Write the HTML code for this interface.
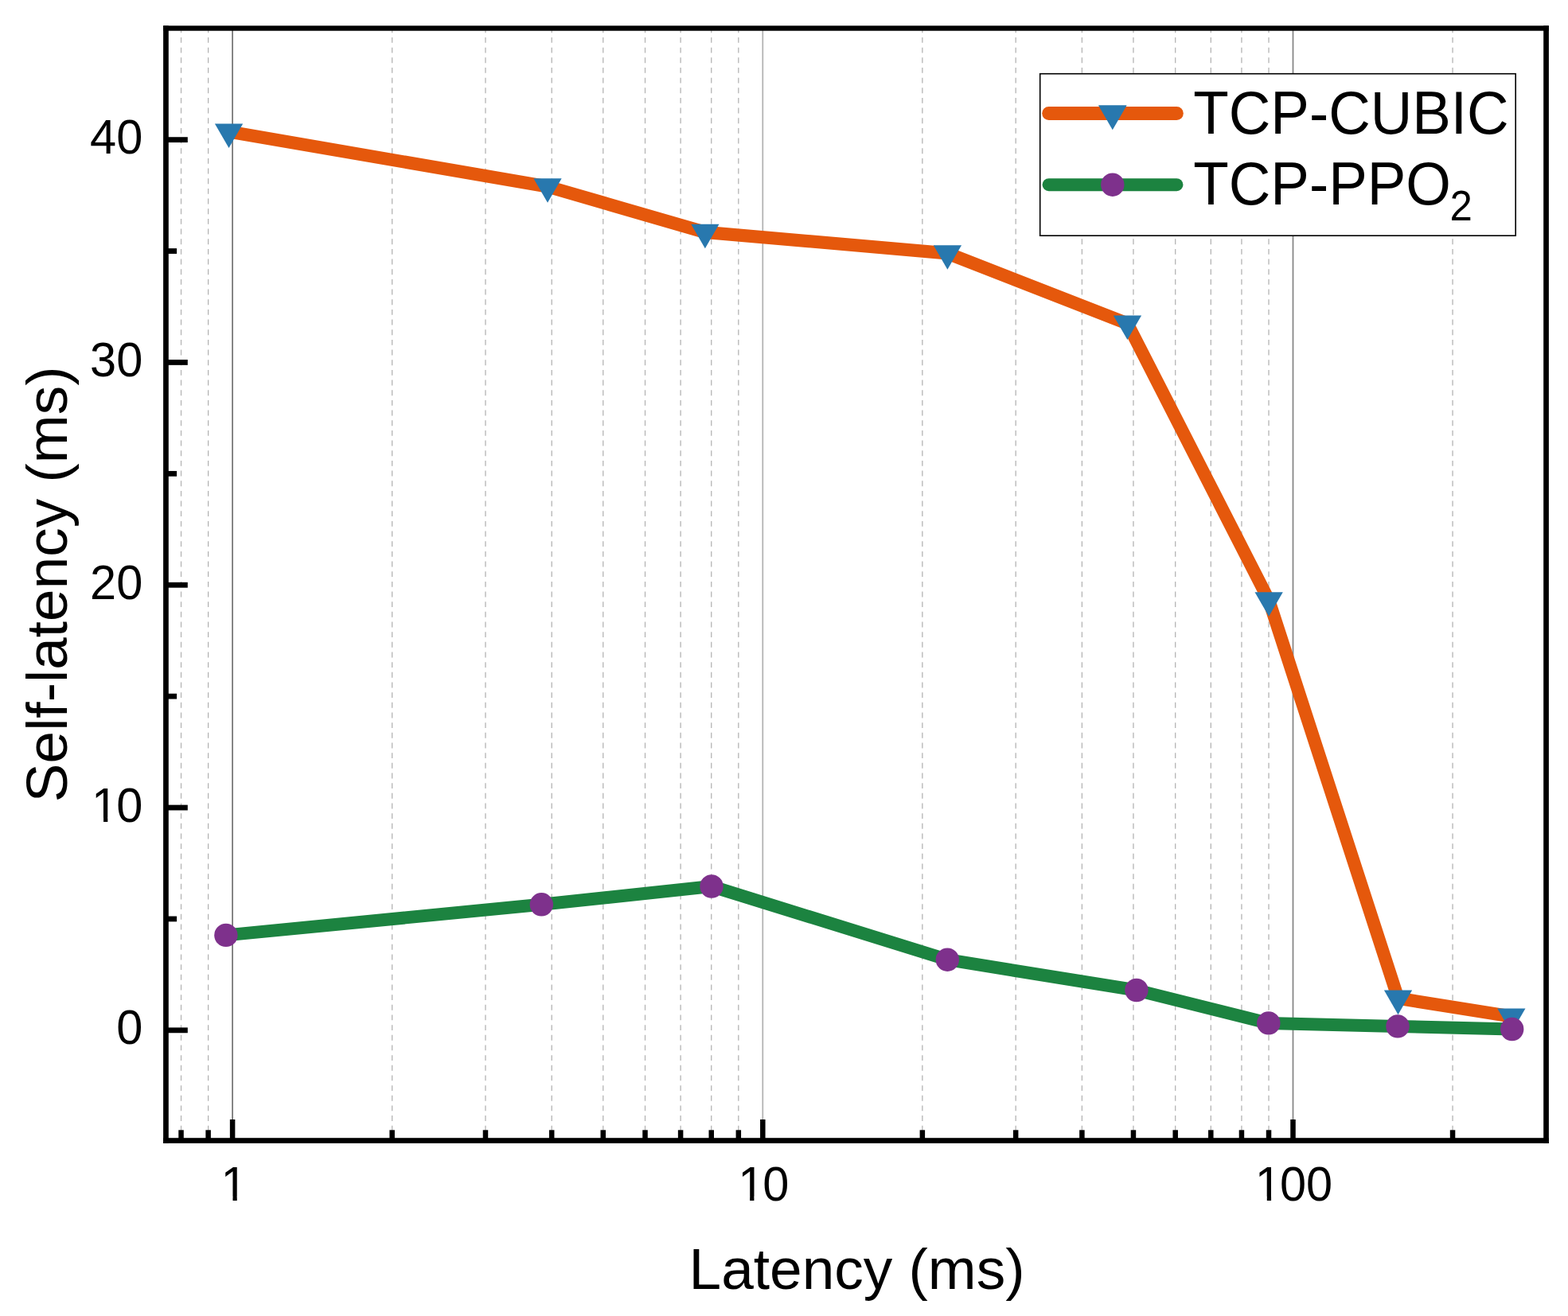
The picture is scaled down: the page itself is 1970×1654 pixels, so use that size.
<!DOCTYPE html>
<html lang="en"><head><meta charset="utf-8"><title>Self-latency vs Latency</title><style>html,body{margin:0;padding:0;background:#fff;overflow:hidden}svg{display:block}</style></head><body>
<svg width="1970" height="1654" viewBox="0 0 1970 1654">
<rect x="0" y="0" width="1970" height="1654" fill="#fff"/>
<g id="grid">
<line x1="227.54" y1="34.3" x2="227.54" y2="1433" stroke="#b4b4b4" stroke-width="1.3" stroke-dasharray="6.9 5.765"/>
<line x1="261.62" y1="34.3" x2="261.62" y2="1433" stroke="#b4b4b4" stroke-width="1.3" stroke-dasharray="6.9 5.765"/>
<line x1="492.65" y1="34.3" x2="492.65" y2="1433" stroke="#b4b4b4" stroke-width="1.3" stroke-dasharray="6.9 5.765"/>
<line x1="609.96" y1="34.3" x2="609.96" y2="1433" stroke="#b4b4b4" stroke-width="1.3" stroke-dasharray="6.9 5.765"/>
<line x1="693.19" y1="34.3" x2="693.19" y2="1433" stroke="#b4b4b4" stroke-width="1.3" stroke-dasharray="6.9 5.765"/>
<line x1="757.75" y1="34.3" x2="757.75" y2="1433" stroke="#b4b4b4" stroke-width="1.3" stroke-dasharray="6.9 5.765"/>
<line x1="810.50" y1="34.3" x2="810.50" y2="1433" stroke="#b4b4b4" stroke-width="1.3" stroke-dasharray="6.9 5.765"/>
<line x1="855.10" y1="34.3" x2="855.10" y2="1433" stroke="#b4b4b4" stroke-width="1.3" stroke-dasharray="6.9 5.765"/>
<line x1="893.74" y1="34.3" x2="893.74" y2="1433" stroke="#b4b4b4" stroke-width="1.3" stroke-dasharray="6.9 5.765"/>
<line x1="927.82" y1="34.3" x2="927.82" y2="1433" stroke="#b4b4b4" stroke-width="1.3" stroke-dasharray="6.9 5.765"/>
<line x1="1158.85" y1="34.3" x2="1158.85" y2="1433" stroke="#b4b4b4" stroke-width="1.3" stroke-dasharray="6.9 5.765"/>
<line x1="1276.16" y1="34.3" x2="1276.16" y2="1433" stroke="#b4b4b4" stroke-width="1.3" stroke-dasharray="6.9 5.765"/>
<line x1="1359.39" y1="34.3" x2="1359.39" y2="1433" stroke="#b4b4b4" stroke-width="1.3" stroke-dasharray="6.9 5.765"/>
<line x1="1423.95" y1="34.3" x2="1423.95" y2="1433" stroke="#b4b4b4" stroke-width="1.3" stroke-dasharray="6.9 5.765"/>
<line x1="1476.70" y1="34.3" x2="1476.70" y2="1433" stroke="#b4b4b4" stroke-width="1.3" stroke-dasharray="6.9 5.765"/>
<line x1="1521.30" y1="34.3" x2="1521.30" y2="1433" stroke="#b4b4b4" stroke-width="1.3" stroke-dasharray="6.9 5.765"/>
<line x1="1559.94" y1="34.3" x2="1559.94" y2="1433" stroke="#b4b4b4" stroke-width="1.3" stroke-dasharray="6.9 5.765"/>
<line x1="1594.02" y1="34.3" x2="1594.02" y2="1433" stroke="#b4b4b4" stroke-width="1.3" stroke-dasharray="6.9 5.765"/>
<line x1="1825.05" y1="34.3" x2="1825.05" y2="1433" stroke="#b4b4b4" stroke-width="1.3" stroke-dasharray="6.9 5.765"/>
<line x1="292.10" y1="36" x2="292.10" y2="1431" stroke="#707070" stroke-width="1.7"/>
<line x1="958.30" y1="36" x2="958.30" y2="1431" stroke="#b0b0b0" stroke-width="1.7"/>
<line x1="1624.50" y1="36" x2="1624.50" y2="1431" stroke="#888888" stroke-width="1.8"/>
</g>
<g id="cubic">
<polyline points="287.55,165.59 688.00,234.49 885.85,291.89 1190.40,318.39 1416.45,406.59 1594.15,754.39 1756.55,1254.79 1898.85,1277.59" fill="none" stroke="#E5580C" stroke-width="16.2" stroke-linejoin="round" stroke-linecap="butt"/>
<polygon points="269.90,155.40 305.20,155.40 287.55,185.97" fill="#2878AE"/>
<polygon points="670.35,224.30 705.65,224.30 688.00,254.87" fill="#2878AE"/>
<polygon points="868.20,281.70 903.50,281.70 885.85,312.27" fill="#2878AE"/>
<polygon points="1172.75,308.20 1208.05,308.20 1190.40,338.77" fill="#2878AE"/>
<polygon points="1398.80,396.40 1434.10,396.40 1416.45,426.97" fill="#2878AE"/>
<polygon points="1576.50,744.20 1611.80,744.20 1594.15,774.77" fill="#2878AE"/>
<polygon points="1738.90,1244.60 1774.20,1244.60 1756.55,1275.17" fill="#2878AE"/>
<polygon points="1881.20,1267.40 1916.50,1267.40 1898.85,1297.97" fill="#2878AE"/>
</g><g id="ppo">
<polyline points="283.90,1175.40 680.30,1136.80 894.00,1114.00 1190.30,1206.20 1427.90,1244.50 1593.80,1285.90 1756.00,1289.90 1899.70,1293.50" fill="none" stroke="#1C8340" stroke-width="16.0" stroke-linejoin="round" stroke-linecap="butt"/>
<circle cx="283.9" cy="1175.4" r="14.7" fill="#7E318C"/>
<circle cx="680.3" cy="1136.8" r="14.7" fill="#7E318C"/>
<circle cx="894.0" cy="1114.0" r="14.7" fill="#7E318C"/>
<circle cx="1190.3" cy="1206.2" r="14.7" fill="#7E318C"/>
<circle cx="1427.9" cy="1244.5" r="14.7" fill="#7E318C"/>
<circle cx="1593.8" cy="1285.9" r="14.7" fill="#7E318C"/>
<circle cx="1756.0" cy="1289.9" r="14.7" fill="#7E318C"/>
<circle cx="1899.7" cy="1293.5" r="14.7" fill="#7E318C"/>
</g>
<g id="frame" fill="#000">
<rect x="205.1" y="32.3" width="1740.8" height="6.4"/>
<rect x="205.1" y="1430.2" width="1740.8" height="6.7"/>
<rect x="205.1" y="32.3" width="6.7" height="1404.6"/>
<rect x="1939.2" y="32.3" width="6.7" height="1404.6"/>
<rect x="288.85" y="1407" width="6.5" height="25"/>
<rect x="955.05" y="1407" width="6.5" height="25"/>
<rect x="1621.25" y="1407" width="6.5" height="25"/>
<rect x="224.29" y="1420.3" width="6.5" height="12"/>
<rect x="258.37" y="1420.3" width="6.5" height="12"/>
<rect x="489.40" y="1420.3" width="6.5" height="12"/>
<rect x="606.71" y="1420.3" width="6.5" height="12"/>
<rect x="689.94" y="1420.3" width="6.5" height="12"/>
<rect x="754.50" y="1420.3" width="6.5" height="12"/>
<rect x="807.25" y="1420.3" width="6.5" height="12"/>
<rect x="851.85" y="1420.3" width="6.5" height="12"/>
<rect x="890.49" y="1420.3" width="6.5" height="12"/>
<rect x="924.57" y="1420.3" width="6.5" height="12"/>
<rect x="1155.60" y="1420.3" width="6.5" height="12"/>
<rect x="1272.91" y="1420.3" width="6.5" height="12"/>
<rect x="1356.14" y="1420.3" width="6.5" height="12"/>
<rect x="1420.70" y="1420.3" width="6.5" height="12"/>
<rect x="1473.45" y="1420.3" width="6.5" height="12"/>
<rect x="1518.05" y="1420.3" width="6.5" height="12"/>
<rect x="1556.69" y="1420.3" width="6.5" height="12"/>
<rect x="1590.77" y="1420.3" width="6.5" height="12"/>
<rect x="1821.80" y="1420.3" width="6.5" height="12"/>
<rect x="209" y="1291.45" width="26.8" height="6.8"/>
<rect x="209" y="1011.65" width="26.8" height="6.8"/>
<rect x="209" y="731.85" width="26.8" height="6.8"/>
<rect x="209" y="452.05" width="26.8" height="6.8"/>
<rect x="209" y="172.25" width="26.8" height="6.8"/>
<rect x="209" y="1151.55" width="13.1" height="6.8"/>
<rect x="209" y="871.75" width="13.1" height="6.8"/>
<rect x="209" y="591.95" width="13.1" height="6.8"/>
<rect x="209" y="312.15" width="13.1" height="6.8"/>
</g>
<g id="ticklabels">
<text transform="translate(275.55,1508.80) scale(1,1.02)" font-family="'Liberation Sans', Arial, sans-serif" font-size="59.5" fill="#000"><tspan dx="1.98">1</tspan></text><rect x="281.26" y="1503.87" width="11.23" height="5.93" fill="#fff"/><rect x="297.75" y="1503.87" width="10.77" height="5.93" fill="#fff"/>
<text transform="translate(925.21,1508.80) scale(1,1.02)" font-family="'Liberation Sans', Arial, sans-serif" font-size="59.5" fill="#000"><tspan dx="1.98">1</tspan><tspan dx="-1.98">0</tspan></text><rect x="930.92" y="1503.87" width="11.23" height="5.93" fill="#fff"/><rect x="947.41" y="1503.87" width="10.77" height="5.93" fill="#fff"/>
<text transform="translate(1574.86,1508.80) scale(1,1.02)" font-family="'Liberation Sans', Arial, sans-serif" font-size="59.5" fill="#000"><tspan dx="1.98">1</tspan><tspan dx="-1.98">0</tspan><tspan>0</tspan></text><rect x="1580.57" y="1503.87" width="11.23" height="5.93" fill="#fff"/><rect x="1597.06" y="1503.87" width="10.77" height="5.93" fill="#fff"/>
<text transform="translate(146.21,1312.35) scale(1,1.02)" font-family="'Liberation Sans', Arial, sans-serif" font-size="59.5" fill="#000"><tspan>0</tspan></text>
<text transform="translate(113.12,1032.55) scale(1,1.02)" font-family="'Liberation Sans', Arial, sans-serif" font-size="59.5" fill="#000"><tspan dx="1.98">1</tspan><tspan dx="-1.98">0</tspan></text><rect x="118.83" y="1027.62" width="11.23" height="5.93" fill="#fff"/><rect x="135.31" y="1027.62" width="10.77" height="5.93" fill="#fff"/>
<text transform="translate(113.12,752.75) scale(1,1.02)" font-family="'Liberation Sans', Arial, sans-serif" font-size="59.5" fill="#000"><tspan>2</tspan><tspan>0</tspan></text>
<text transform="translate(113.12,472.95) scale(1,1.02)" font-family="'Liberation Sans', Arial, sans-serif" font-size="59.5" fill="#000"><tspan>3</tspan><tspan>0</tspan></text>
<text transform="translate(113.12,193.15) scale(1,1.02)" font-family="'Liberation Sans', Arial, sans-serif" font-size="59.5" fill="#000"><tspan>4</tspan><tspan>0</tspan></text>
</g>
<text transform="translate(865.60,1620.40)" font-family="'Liberation Sans', Arial, sans-serif" font-size="73" text-anchor="start" fill="#000">Latency (ms)</text>
<text transform="translate(83.50,1008.15) rotate(-90)" font-family="'Liberation Sans', Arial, sans-serif" font-size="73" text-anchor="start" fill="#000">Self-latency (ms)</text>
<g id="legend">
<rect x="1306.7" y="92.7" width="597.5" height="203.5" fill="#fff" stroke="#000" stroke-width="1.6"/>
<line x1="1317.6" y1="142.5" x2="1478.4" y2="142.5" stroke="#E5580C" stroke-width="16.8" stroke-linecap="round"/>
<polygon points="1379.90,132.17 1415.70,132.17 1397.80,163.17" fill="#2878AE"/>
<line x1="1317.6" y1="232.2" x2="1478.4" y2="232.2" stroke="#1C8340" stroke-width="16" stroke-linecap="round"/>
<circle cx="1397.8" cy="232.2" r="14.7" fill="#7E318C"/>
<text transform="translate(1499.30,167.80) scale(1,1.04)" font-family="'Liberation Sans', Arial, sans-serif" font-size="72.8" text-anchor="start" fill="#000">TCP-CUBIC</text>
<text transform="translate(1499.30,256.80) scale(1,1.04)" font-family="'Liberation Sans', Arial, sans-serif" font-size="72.8" text-anchor="start" fill="#000">TCP-PPO<tspan dx="-1.3" dy="19.13" font-size="51">2</tspan></text>
</g>
</svg></body></html>
